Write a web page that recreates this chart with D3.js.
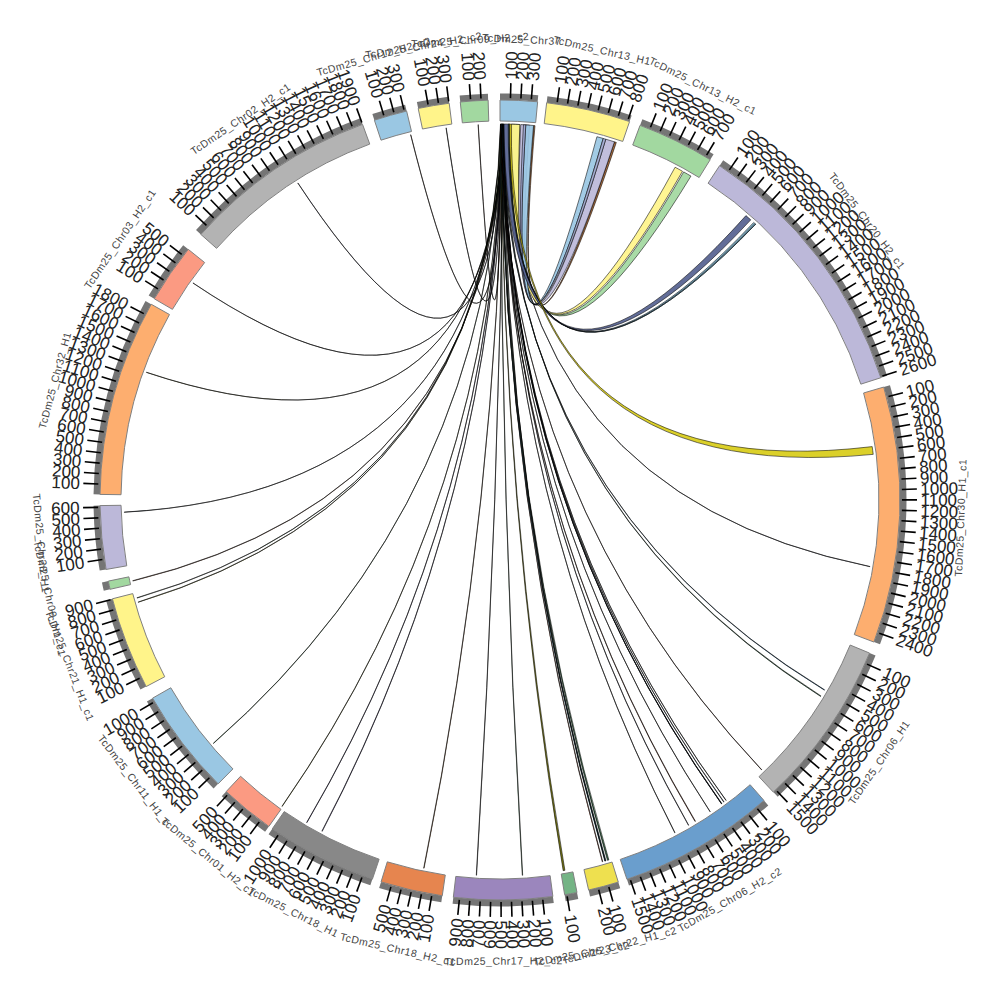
<!DOCTYPE html>
<html><head><meta charset="utf-8">
<script src="https://cdn.jsdelivr.net/npm/d3@7"></script>
<style>html,body{margin:0;background:#fff}svg{display:block}</style></head>
<body><svg id="c" width="1000" height="1000"></svg>
<script>
// ---- data ----
const sectorNames = ["TcDm25_Chr37","TcDm25_Chr13_H1","TcDm25_Chr13_H2_c1","TcDm25_Chr20_H2_c1","TcDm25_Chr30_H1_c1","TcDm25_Chr06_H1","TcDm25_Chr06_H2_c2","TcDm25_Chr22_H1_c2","TcDm25_Chr23_c2","TcDm25_Chr17_H2_c2","TcDm25_Chr18_H2_c1","TcDm25_Chr18_H1","TcDm25_Chr01_H2_c1","TcDm25_Chr11_H1_c","TcDm25_Chr21_H1_c1","TcDm25_Chr09_H1_c1","TcDm25_Chr28_H1","TcDm25_Chr32_H1","TcDm25_Chr03_H2_c1","TcDm25_Chr02_H2_c1","TcDm25_Chr12_H2_c2","TcDm25_Chr24_H2_c2","TcDm25_Chr09_H2_c2"];
const sectorLengths = [362,819,752,2611,2497,1530,1530,295,121,960,604,1080,530,1040,905,80,617,1913,577,1900,322,302,268];
const sectorTicks = [3,8,7,26,24,15,15,2,1,9,5,10,5,10,9,0,6,18,5,19,3,3,2];
const sectorColors = ["#9ac7e3","#fff48a","#a2d8a0","#bcb8d9","#fdae6f","#b3b3b3","#6a9ecd","#eee04f","#74b485","#9b86bd","#e6854f","#888888","#fb9a82","#9ac7e3","#fff48a","#a2d8a0","#bcb8d9","#fdae6f","#fb9a82","#b3b3b3","#9ac7e3","#fff48a","#a2d8a0"];
// links: Chr37 from, Chr37 to, target sector, target from, target to, colour
const linkSourceFrom = [ 8, 12, 16, 20, 24, 28, 32, 36, 5, 9, 13, 18, 22, 26, 30, 34, 7, 11, 15, 10, 19, 23, 27, 14, 21, 25, 29, 33, 6, 17, 31, 35, 37, 39, 345, 120, 112, 212, 263, 240, 40, 84, 92, 96];
const linkSourceTo   = [10, 14, 18, 23, 26, 30, 34, 38, 8, 11, 15, 20, 25, 28, 33, 36, 10, 15, 17, 12, 22, 25, 30, 16, 23, 28, 31, 35, 8, 20, 33, 37, 39, 41, 358, 200, 203, 303, 343, 264, 101, 92, 96, 115];
const linkTarget     = [22, 21, 20, 19, 18, 17, 16, 15, 14, 14, 13, 12, 11, 11, 10, 9, 9, 8, 7, 7, 7, 6, 6, 6, 6, 6, 6, 6, 5, 5, 5, 4, 6, 7, 1, 2, 2, 1, 1, 1, 3, 3, 3, 4];
const linkTargetFrom = [158, 238, 305, 1065, 338, 1278, 545, 30, 850, 805, 325, 7, 825, 645, 225, 750, 278, 78, 90, 56, 25, 910, 750, 670, 490, 345, 317, 290, 1465, 490, 558, 1785, 348, 62, 740, 587, 487, 647, 553, 620, 507, 613, 630, 553];
const linkTargetTo   = [160, 240, 307, 1067, 340, 1280, 547, 34, 853, 808, 328, 10, 828, 649, 229, 753, 282, 96, 95, 68, 40, 912, 753, 675, 492, 349, 320, 292, 1467, 494, 564, 1787, 350, 64, 760, 673, 573, 740, 620, 647, 573, 640, 640, 633];
const linkColors     = ["#7a3a20","#333333","#5a2a10","#3a3a80","#333333","#666620","#334455","#a05a3a","#4a8a5a","#8a8a20","#4a9a5a","#999922","#4a3a90","#4a3a90","#b06a30","#555555","#4a8a5a","#6a6a00","#8a3a20","#2a6a8a","#2a5a3a","#555555","#4a4a7a","#8a3a20","#333333","#3a7a9a","#2a4a6a","#333333","#8a3a20","#2a6aa0","#3a6a4a","#5a5a70","#3a3a50","#2a5a4a","#a06030","#a2d8a0","#fff48a","#bcb8d9","#9ac7e3","#a0a8d0","#55618f","#7fb0c8","#7fb0c8","#d8cc18"];

// ---- layout ----
const cx = 500, cy = 500;
const rLink = 376, rIn = 379, rOut = 400, rBand = 406.5, rTick = 417, rNum = 420.5, rName = 461;
const sectorStart = [0,6.7,20.5,33.3,73.6,112.5,138.7,162.8,168.9,172.4,188.3,198.6,215.3,224.8,242.2,257.1,260,270.8,300.2,311.6,341.7,348.2,354.3];
const sectorEnd = [5.4,18.9,31.7,72.2,110.8,136.9,161.5,167.2,170.7,186.7,197.3,214.7,223.2,240.3,255.7,258.3,269.2,299.3,308.8,339.9,346.5,352.7,358.3];
const rad = d => d * Math.PI / 180;
const scales = sectorLengths.map((len, i) =>
  d3.scaleLinear().domain([0, len]).range([sectorStart[i], sectorEnd[i]]));
const pt = (deg, r) => [cx + r * Math.sin(rad(deg)), cy - r * Math.cos(rad(deg))];

const svg = d3.select("#c");
const root = svg.append("g");

// links
const linksG = root.append("g");
linkTarget.forEach((t, i) => {
  const a1 = scales[0](linkSourceFrom[i]), a2 = scales[0](linkSourceTo[i]);
  const b1 = scales[t](linkTargetFrom[i]), b2 = scales[t](linkTargetTo[i]);
  let mid = (a1 + a2 + b1 + b2) / 4, sep = Math.abs((b1 + b2) / 2 - (a1 + a2) / 2);
  if (sep > 180) { sep = 360 - sep; mid += 180; }
  const c = pt(mid, 25 * (1 - sep / 180));
  const p = d3.path();
  p.moveTo(...pt(a1, rLink));
  p.arc(cx, cy, rLink, rad(a1 - 90), rad(a2 - 90));
  p.quadraticCurveTo(c[0], c[1], ...pt(b1, rLink));
  p.arc(cx, cy, rLink, rad(b1 - 90), rad(b2 - 90));
  p.quadraticCurveTo(c[0], c[1], ...pt(a1, rLink));
  p.closePath();
  linksG.append("path").attr("d", p.toString())
    .attr("fill", linkColors[i]).attr("fill-opacity", 0.92)
    .attr("stroke", "#000").attr("stroke-width", 0.55);
});

// sectors
const arc = d3.arc();
sectorNames.forEach((name, i) => {
  const s = scales[i], len = sectorLengths[i];
  const a0 = rad(s(0)), a1 = rad(s(len));
  const g = root.append("g");
  g.append("path").attr("transform", `translate(${cx},${cy})`)
    .attr("d", arc({innerRadius: rOut, outerRadius: rBand, startAngle: a0, endAngle: a1}))
    .attr("fill", "#757575");
  g.append("path").attr("transform", `translate(${cx},${cy})`)
    .attr("d", arc({innerRadius: rIn, outerRadius: rOut, startAngle: a0, endAngle: a1}))
    .attr("fill", sectorColors[i]).attr("stroke", "#808080").attr("stroke-width", 1);
  const ticks = d3.range(1, sectorTicks[i] + 1).map(k => k * 100);
  ticks.forEach(v => {
    const d = s(v), p0 = pt(d, rOut + 2), p1 = pt(d, rTick);
    g.append("line").attr("x1", p0[0]).attr("y1", p0[1]).attr("x2", p1[0]).attr("y2", p1[1])
      .attr("stroke", "#000").attr("stroke-width", 1.6);
    const q = pt(d, rNum), right = d < 180;
    g.append("text").text(v)
      .attr("transform", `translate(${q[0]},${q[1]}) rotate(${right ? d - 90 : d + 90})`)
      .attr("text-anchor", right ? "start" : "end").attr("dy", "0.35em")
      .attr("font-family", "Liberation Sans").attr("font-size", 17).attr("fill", "#222");
  });
  const m = (s(0) + s(len)) / 2, q = pt(m, rName), lower = m > 90 && m < 270;
  g.append("text").text(name)
    .attr("transform", `translate(${q[0]},${q[1]}) rotate(${lower ? m - 180 : m})`)
    .attr("text-anchor", "middle").attr("dy", "0.35em")
    .attr("font-family", "Liberation Sans").attr("font-size", 10.5).attr("letter-spacing", 0.5).attr("fill", "#444");
});
</script></body></html>
